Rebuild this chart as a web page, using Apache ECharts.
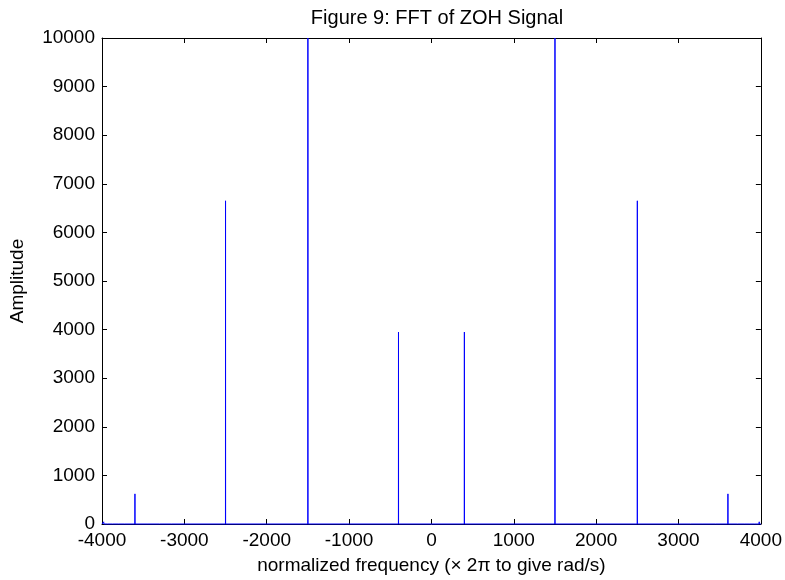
<!DOCTYPE html>
<html>
<head>
<meta charset="utf-8">
<script src="https://cdn.jsdelivr.net/npm/echarts@6/dist/echarts.min.js"></script>
<style>html,body{margin:0;padding:0;background:#fff;}#c{width:785px;height:580px;}</style>
</head>
<body>
<div id="c"></div>
<script>
const titleText = 'Figure 9: FFT of ZOH Signal';
const xLabel = 'normalized frequency (\u00d7 2\u03c0 to give rad/s)';
const yLabel = 'Amplitude';
const xTicks = [-4000, -3000, -2000, -1000, 0, 1000, 2000, 3000, 4000];
const yTicks = [0, 1000, 2000, 3000, 4000, 5000, 6000, 7000, 8000, 9000, 10000];
// spectral peaks
const spikeFreqs = [-3600, -2500, -1500, -400, 400, 1500, 2500, 3600];
const spikeAmps  = [620, 6650, 10000, 3950, 3950, 10000, 6650, 620];
// small leakage near the band edges
const noiseFreqs = [-3980, -3930, -3870, -3800, -3720, -3450, -3300, -3150, 3150, 3300, 3450, 3720, 3800, 3870, 3930, 3980];
const noiseAmps  = [45, 25, 35, 20, 30, 15, 20, 12, 12, 20, 15, 30, 20, 35, 25, 45];
const edgeFreqs = [-4000, 4000];

const pts = [];
edgeFreqs.forEach(f => pts.push([f, 0]));
noiseFreqs.forEach((f, i) => { pts.push([f - 3, 0]); pts.push([f, noiseAmps[i]]); pts.push([f + 3, 0]); });
spikeFreqs.forEach((f, i) => { pts.push([f - 1, 0]); pts.push([f, spikeAmps[i]]); pts.push([f + 1, 0]); });
pts.sort((a, b) => a[0] - b[0]);

const FONT = 'Liberation Sans';
const FS = 19;
const chart = echarts.init(document.getElementById('c'), null, {renderer: 'canvas'});
const fmt = v => String(v);
const axisCommon = {
  axisLine: {show: true, onZero: false, lineStyle: {color: '#000', width: 1}},
  axisTick: {show: true, inside: true, length: 5, lineStyle: {color: '#000'}},
  splitLine: {show: false}
};
chart.setOption({
  animation: false,
  backgroundColor: '#fff',
  title: {
    text: titleText, left: 432, top: 3, textAlign: 'center',
    textStyle: {fontFamily: FONT, fontSize: 20, fontWeight: 'normal', color: '#000'}
  },
  grid: {left: 102, right: 23, top: 38, bottom: 55, containLabel: false},
  xAxis: [
    Object.assign({
      type: 'value', min: xTicks[0], max: xTicks[xTicks.length - 1], interval: 1000, position: 'bottom',
      name: xLabel, nameLocation: 'middle', nameGap: 32,
      nameTextStyle: {fontFamily: FONT, fontSize: FS, color: '#000'},
      axisLabel: {fontFamily: FONT, fontSize: FS, color: '#000', margin: 7, formatter: fmt}
    }, axisCommon),
    Object.assign({
      type: 'value', min: xTicks[0], max: xTicks[xTicks.length - 1], interval: 1000, position: 'top',
      axisLabel: {show: false}
    }, axisCommon)
  ],
  yAxis: [
    Object.assign({
      type: 'value', min: yTicks[0], max: yTicks[yTicks.length - 1], interval: 1000, position: 'left',
      name: yLabel, nameLocation: 'middle', nameGap: 75, nameRotate: 90,
      nameTextStyle: {fontFamily: FONT, fontSize: FS, color: '#000'},
      axisLabel: {fontFamily: FONT, fontSize: FS, color: '#000', margin: 7, formatter: fmt}
    }, axisCommon),
    Object.assign({
      type: 'value', min: yTicks[0], max: yTicks[yTicks.length - 1], interval: 1000, position: 'right',
      axisLabel: {show: false}
    }, axisCommon)
  ],
  series: [{
    type: 'line', data: pts, showSymbol: false, symbol: 'none',
    lineStyle: {color: '#0000ff', width: 1}, clip: false, z: 5
  }]
});
</script>
</body>
</html>
